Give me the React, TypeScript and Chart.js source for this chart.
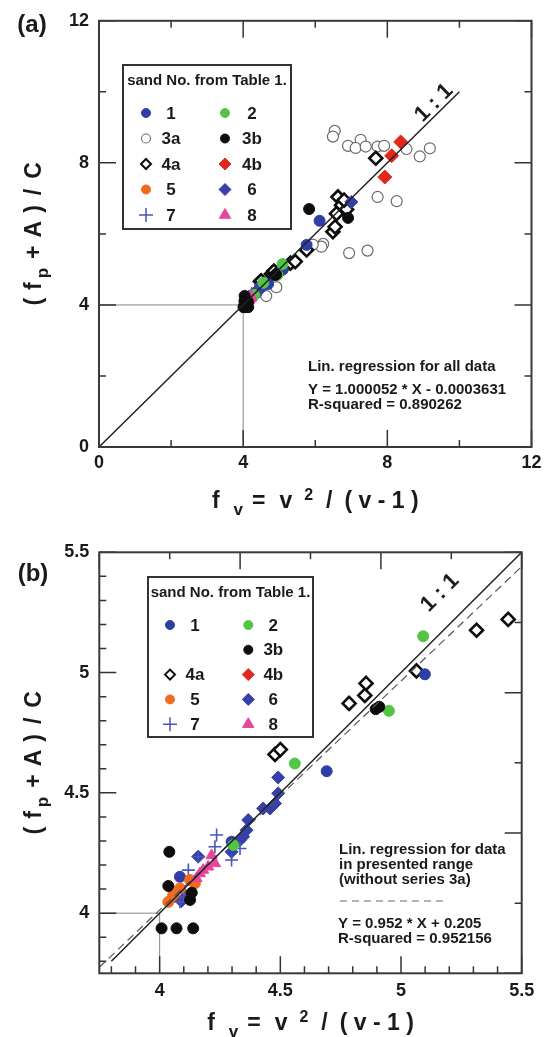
import React, { useEffect, useRef } from 'react';
import { Chart, registerables } from 'chart.js';

Chart.register(...registerables);

const FONT = '"Liberation Sans", Arial, Helvetica, sans-serif';

// ---------- series values: [f_v, (f_p + A) / C] ----------
// points inside the 3.75 – 5.5 window (shown in both panels)
const sand1 = [[4.084, 4.151], [4.298, 4.297], [4.692, 4.59], [5.099, 4.993]];
const sand2 = [[4.305, 4.283], [4.56, 4.622], [4.95, 4.841], [5.092, 5.151]];
const sand3b = [[4.008, 3.937], [4.07, 3.937], [4.139, 3.937], [4.04, 4.255], [4.036, 4.113], [4.133, 4.085], [4.126, 4.055], [4.895, 4.848], [4.91, 4.858]];
const sand4a = [[4.478, 4.66], [4.5, 4.68], [4.785, 4.872], [4.85, 4.905], [4.855, 4.955], [5.064, 5.007], [5.313, 5.176], [5.444, 5.221]];
const sand5 = [[4.036, 4.047], [4.056, 4.075], [4.084, 4.103], [4.126, 4.138], [4.146, 4.124]];
const sand6 = [[4.09, 4.05], [4.11, 4.07], [4.16, 4.235], [4.298, 4.255], [4.333, 4.304], [4.346, 4.318], [4.36, 4.345], [4.367, 4.387], [4.429, 4.435], [4.457, 4.435], [4.478, 4.456], [4.491, 4.498], [4.491, 4.564]];
const sand7 = [[4.084, 4.047], [4.098, 4.068], [4.105, 4.09], [4.119, 4.179], [4.16, 4.234], [4.229, 4.276], [4.236, 4.325], [4.298, 4.221], [4.333, 4.269]];
const sand8 = [[4.153, 4.145], [4.167, 4.165], [4.18, 4.179], [4.201, 4.193], [4.215, 4.24], [4.229, 4.207]];
// points only visible in the full-range panel (a)
const sand1Wide = [[5.76, 5.69], [6.12, 6.37]];
const sand3a = [[6.54, 8.9], [6.49, 8.74], [6.91, 8.48], [7.26, 8.65], [7.12, 8.42], [7.4, 8.46], [7.73, 8.46], [7.91, 8.48], [8.53, 8.39], [8.9, 8.18], [9.18, 8.41], [7.73, 7.04], [8.26, 6.92], [6.94, 5.46], [7.45, 5.53], [6.22, 5.72], [6.17, 5.64], [5.93, 5.7], [4.92, 4.5], [4.64, 4.25]];
const sand3bWide = [[5.83, 6.7], [6.91, 6.45]];
const sand4aWide = [[5.76, 5.55], [6.49, 6.06], [6.55, 6.2], [6.59, 6.57], [6.63, 7.04], [6.73, 6.81], [6.87, 6.69], [6.8, 6.95], [7.68, 8.13]];
const sand4b = [[7.93, 7.6], [8.12, 8.2], [8.37, 8.59]];
const sand6Wide = [[7.0, 6.9]];

// ---------- tick labels ----------
const xTickLabelsA = [0, 4, 8, 12];
const yTickLabelsA = [0, 4, 8, 12];
const xTickLabelsB = [4, 4.5, 5, 5.5];
const yTickLabelsB = [4, 4.5, 5, 5.5];

// ---------- reference lines ----------
const oneToOneA = [[0, 0], [10, 10]];
const oneToOneB = [[3.8, 3.8], [5.5, 5.5]];
const regSlopeB = 0.952;
const regInterceptB = 0.205;
const regRangeB = [3.75, 5.5];
const guideVA = [[4, 0], [4, 4]];
const guideHA = [[0, 4], [4, 4]];
const guideVB = [[4, 3.75], [4, 4]];
const guideHB = [[3.75, 4], [4, 4]];

// ---------- styles ----------
type Shape = 'circle' | 'rectRot' | 'cross' | 'triangle';
interface SeriesStyle { shape: Shape; fill: string; stroke: string; r: number; bw: number; lr: number; lbw: number }
const STYLES: Record<string, SeriesStyle> = {
  '1': { shape: 'circle', fill: '#2E3EA6', stroke: '#2E3EA6', r: 5.5, bw: 1, lr: 4.5, lbw: 1 },
  '2': { shape: 'circle', fill: '#53C444', stroke: '#53C444', r: 5.5, bw: 1, lr: 4.5, lbw: 1 },
  '3a': { shape: 'circle', fill: '#ffffff', stroke: '#6a6a6a', r: 5.5, bw: 1.2, lr: 4.5, lbw: 1.1 },
  '3b': { shape: 'circle', fill: '#0d0d0d', stroke: '#0d0d0d', r: 5.5, bw: 1, lr: 4.5, lbw: 1 },
  '4a': { shape: 'rectRot', fill: '#ffffff', stroke: '#0d0d0d', r: 6.5, bw: 2.6, lr: 5, lbw: 2 },
  '4b': { shape: 'rectRot', fill: '#E0281C', stroke: '#E0281C', r: 7, bw: 1, lr: 6, lbw: 1 },
  '5': { shape: 'circle', fill: '#F26A1E', stroke: '#F26A1E', r: 5.5, bw: 1, lr: 4.5, lbw: 1 },
  '6': { shape: 'rectRot', fill: '#3540A8', stroke: '#3540A8', r: 6.5, bw: 1, lr: 6, lbw: 1 },
  '7': { shape: 'cross', fill: '#4856B8', stroke: '#4856B8', r: 6.5, bw: 1.6, lr: 7, lbw: 1.5 },
  '8': { shape: 'triangle', fill: '#E9459B', stroke: '#E9459B', r: 6.5, bw: 1, lr: 6.5, lbw: 1 },
};

const toXY = (arr: number[][]) => arr.map(([x, y]) => ({ x, y }));

function scatterSet(key: string, data: number[][], order: number) {
  const s = STYLES[key];
  return {
    label: key,
    data: toXY(data),
    showLine: false,
    pointStyle: s.shape,
    pointRadius: s.r,
    pointHoverRadius: s.r,
    pointBackgroundColor: s.fill,
    pointBorderColor: s.stroke,
    pointBorderWidth: s.bw,
    order,
  };
}

function lineSet(data: number[][], color: string, width: number, dash: number[], order: number) {
  return {
    label: '',
    data: toXY(data),
    showLine: true,
    borderColor: color,
    borderWidth: width,
    borderDash: dash,
    pointRadius: 0,
    pointHoverRadius: 0,
    fill: false,
    order,
  };
}

// ---------- drawing helpers ----------
function drawMarker(ctx: CanvasRenderingContext2D, s: SeriesStyle, x: number, y: number) {
  const r = s.lr;
  ctx.save();
  ctx.fillStyle = s.fill;
  ctx.strokeStyle = s.stroke;
  ctx.lineWidth = s.lbw;
  ctx.beginPath();
  if (s.shape === 'circle') ctx.arc(x, y, r, 0, Math.PI * 2);
  else if (s.shape === 'rectRot') {
    ctx.moveTo(x - r, y); ctx.lineTo(x, y - r); ctx.lineTo(x + r, y); ctx.lineTo(x, y + r); ctx.closePath();
  } else if (s.shape === 'triangle') {
    for (let k = 0; k < 3; k++) {
      const a = (k * 2 * Math.PI) / 3;
      const px = x + Math.sin(a) * r, py = y - Math.cos(a) * r;
      if (k === 0) ctx.moveTo(px, py); else ctx.lineTo(px, py);
    }
    ctx.closePath();
  } else {
    ctx.moveTo(x - r, y); ctx.lineTo(x + r, y); ctx.moveTo(x, y - r); ctx.lineTo(x, y + r);
  }
  if (s.shape !== 'cross') ctx.fill();
  ctx.stroke();
  ctx.restore();
}

interface Piece { t: string; size: number; dy: number; g: number }
function drawRich(ctx: CanvasRenderingContext2D, pieces: Piece[], cx: number, cy: number, rot: number) {
  ctx.save();
  ctx.translate(cx, cy);
  ctx.rotate(rot);
  ctx.textBaseline = 'alphabetic';
  ctx.textAlign = 'left';
  let total = 0;
  const widths = pieces.map((p) => {
    ctx.font = `bold ${p.size}px ${FONT}`;
    return ctx.measureText(p.t).width;
  });
  pieces.forEach((p, i) => { total += p.g + widths[i]; });
  let x = -total / 2;
  pieces.forEach((p, i) => {
    x += p.g;
    ctx.font = `bold ${p.size}px ${FONT}`;
    ctx.fillText(p.t, x, p.dy);
    x += widths[i];
  });
  ctx.restore();
}

const X_TITLE: Piece[] = [
  { t: 'f', size: 23, dy: 0, g: 0 },
  { t: 'v', size: 17, dy: 7, g: 14 },
  { t: '=', size: 23, dy: 0, g: 9 },
  { t: 'v', size: 23, dy: 0, g: 14 },
  { t: '2', size: 16, dy: -8, g: 12 },
  { t: '/', size: 23, dy: 0, g: 13 },
  { t: '( v - 1 )', size: 23, dy: 0, g: 12 },
];
const Y_TITLE: Piece[] = [
  { t: '(', size: 23, dy: 0, g: 0 },
  { t: 'f', size: 23, dy: 0, g: 8 },
  { t: 'p', size: 17, dy: 7, g: 4 },
  { t: '+', size: 23, dy: 0, g: 9 },
  { t: 'A', size: 23, dy: 0, g: 8 },
  { t: ')', size: 23, dy: 0, g: 8 },
  { t: '/', size: 23, dy: 0, g: 10 },
  { t: 'C', size: 23, dy: 0, g: 10 },
];

function tickVals(min: number, max: number, step: number) {
  const out: number[] = [];
  for (let k = Math.ceil(min / step - 1e-6); k * step <= max + 1e-6; k++) out.push(Math.round(k * step * 1e6) / 1e6);
  return out;
}
const isMajor = (v: number, m: number) => Math.abs(v / m - Math.round(v / m)) < 1e-6;

interface Decor {
  id: string;
  xMinor: number; xMajor: number; yMinor: number; yMajor: number;
  mirror?: { min: number; max: number; minor: number; major: number };
  panel: { text: string; x: number; y: number };
  notes: { text: string; x: number; y: number }[];
  dashSample?: { x1: number; x2: number; y: number };
  oneToOne: { x: number; y: number };
  xTitleY: number; yTitleX: number;
  legend: { left: number; top: number; w: number; h: number; titleX: number; titleY: number; row0: number; rowGap: number; cols: number[]; rows: (string | null)[][] };
}

function decorPlugin(d: Decor) {
  return {
    id: d.id,
    afterDraw(chart: any) {
      const ctx: CanvasRenderingContext2D = chart.ctx;
      const { left, right, top, bottom } = chart.chartArea;
      const xs = chart.scales.x, ys = chart.scales.y;
      const MAJ = 17, MIN = 7;
      ctx.save();
      // inward ticks
      ctx.strokeStyle = '#333';
      ctx.lineWidth = 1.5;
      ctx.beginPath();
      for (const v of tickVals(xs.min, xs.max, d.xMinor)) {
        const p = xs.getPixelForValue(v); const L = isMajor(v, d.xMajor) ? MAJ : MIN;
        ctx.moveTo(p, bottom); ctx.lineTo(p, bottom - L);
      }
      for (const v of tickVals(ys.min, ys.max, d.yMinor)) {
        const p = ys.getPixelForValue(v); const L = isMajor(v, d.yMajor) ? MAJ : MIN;
        ctx.moveTo(left, p); ctx.lineTo(left + L, p);
      }
      if (d.mirror) {
        const m = d.mirror;
        for (const v of tickVals(m.min, m.max, m.minor)) {
          const f = (v - m.min) / (m.max - m.min);
          const L = isMajor(v, m.major) ? MAJ : MIN;
          const px = left + f * (right - left);
          const py = bottom - f * (bottom - top);
          ctx.moveTo(px, top); ctx.lineTo(px, top + L);
          ctx.moveTo(right, py); ctx.lineTo(right - L, py);
        }
      } else {
        for (const v of tickVals(xs.min, xs.max, d.xMinor)) {
          const p = xs.getPixelForValue(v); const L = isMajor(v, d.xMajor) ? MAJ : MIN;
          ctx.moveTo(p, top); ctx.lineTo(p, top + L);
        }
        for (const v of tickVals(ys.min, ys.max, d.yMinor)) {
          const p = ys.getPixelForValue(v); const L = isMajor(v, d.yMajor) ? MAJ : MIN;
          ctx.moveTo(right, p); ctx.lineTo(right - L, p);
        }
      }
      ctx.stroke();
      // frame
      ctx.strokeStyle = '#3a3a3a';
      ctx.lineWidth = 2;
      ctx.strokeRect(left, top, right - left, bottom - top);

      ctx.fillStyle = '#1a1a1a';
      // panel letter
      ctx.font = `bold 24px ${FONT}`;
      ctx.textAlign = 'center';
      ctx.textBaseline = 'middle';
      ctx.fillText(d.panel.text, d.panel.x, d.panel.y);
      // notes
      ctx.font = `bold 15px ${FONT}`;
      ctx.textAlign = 'left';
      for (const n of d.notes) ctx.fillText(n.text, n.x, n.y);
      if (d.dashSample) {
        ctx.save();
        ctx.strokeStyle = '#666';
        ctx.lineWidth = 1.2;
        ctx.setLineDash([7, 5]);
        ctx.beginPath();
        ctx.moveTo(d.dashSample.x1, d.dashSample.y);
        ctx.lineTo(d.dashSample.x2, d.dashSample.y);
        ctx.stroke();
        ctx.restore();
      }
      // 1 : 1 label
      ctx.save();
      ctx.translate(d.oneToOne.x, d.oneToOne.y);
      ctx.rotate(-Math.PI / 4);
      ctx.font = `bold 22px ${FONT}`;
      ctx.textAlign = 'center';
      ctx.fillText('1 : 1', 0, 0);
      ctx.restore();
      // axis titles
      drawRich(ctx, X_TITLE, (left + right) / 2, d.xTitleY, 0);
      drawRich(ctx, Y_TITLE, d.yTitleX, (top + bottom) / 2, -Math.PI / 2);
      // legend
      const lg = d.legend;
      ctx.fillStyle = '#fff';
      ctx.fillRect(lg.left, lg.top, lg.w, lg.h);
      ctx.strokeStyle = '#333';
      ctx.lineWidth = 2;
      ctx.strokeRect(lg.left, lg.top, lg.w, lg.h);
      ctx.fillStyle = '#1a1a1a';
      ctx.font = `bold 15px ${FONT}`;
      ctx.textAlign = 'center';
      ctx.textBaseline = 'middle';
      ctx.fillText('sand No. from Table 1.', lg.titleX, lg.titleY);
      ctx.font = `bold 17px ${FONT}`;
      lg.rows.forEach((row, i) => {
        const y = lg.row0 + i * lg.rowGap;
        row.forEach((key, j) => {
          if (!key) return;
          drawMarker(ctx, STYLES[key], lg.cols[j * 2], y);
          ctx.fillStyle = '#1a1a1a';
          ctx.fillText(key, lg.cols[j * 2 + 1], y + 1);
        });
      });
      ctx.restore();
    },
  };
}

function axis(min: number, max: number, labels: number[], pad: number, fit: (s: any) => void) {
  return {
    type: 'linear',
    min,
    max,
    grid: { display: false, drawTicks: false },
    border: { display: false },
    afterBuildTicks: (s: any) => { s.ticks = labels.map((v) => ({ value: v })); },
    afterFit: fit,
    ticks: {
      padding: pad,
      color: '#1a1a1a',
      autoSkip: false,
      maxRotation: 0,
      font: { family: FONT, size: 18, weight: 'bold' },
      callback: (v: any) => String(v),
    },
  };
}

const legendRowsA = [['1', '2'], ['3a', '3b'], ['4a', '4b'], ['5', '6'], ['7', '8']];
const legendRowsB = [['1', '2'], [null, '3b'], ['4a', '4b'], ['5', '6'], ['7', '8']];

function buildA(): any {
  const datasets = [
    lineSet(guideVA, '#888', 1, [], 100),
    lineSet(guideHA, '#888', 1, [], 100),
    scatterSet('3a', sand3a, 60),
    scatterSet('4b', sand4b, 59),
    scatterSet('4a', sand4a.concat(sand4aWide), 58),
    scatterSet('6', sand6.concat(sand6Wide), 57),
    scatterSet('7', sand7, 56),
    scatterSet('1', sand1.concat(sand1Wide), 55),
    scatterSet('2', sand2, 54),
    scatterSet('5', sand5, 53),
    scatterSet('8', sand8, 52),
    scatterSet('3b', sand3b.concat(sand3bWide), 51),
    lineSet(oneToOneA, '#222', 1.5, [], 1),
  ];
  return {
    type: 'scatter',
    data: { datasets },
    options: {
      responsive: false,
      devicePixelRatio: 1,
      animation: false,
      events: [],
      layout: { padding: { left: 0, right: 17.5, top: 18, bottom: 0 } },
      plugins: { legend: { display: false }, tooltip: { enabled: false } },
      scales: {
        x: axis(0, 12, xTickLabelsA, 5, (s) => { s.height = 71; }),
        y: axis(0, 12, yTickLabelsA, 10, (s) => { s.width = 99; }),
      },
    },
    plugins: [
      decorPlugin({
        id: 'decorA', xMinor: 2, xMajor: 4, yMinor: 2, yMajor: 4,
        panel: { text: '(a)', x: 32, y: 25 },
        notes: [
          { text: 'Lin. regression for all data', x: 308, y: 367 },
          { text: 'Y = 1.000052 * X - 0.0003631', x: 308, y: 390 },
          { text: 'R-squared = 0.890262', x: 308, y: 405 },
        ],
        oneToOne: { x: 434, y: 103 },
        xTitleY: 508, yTitleX: 41,
        legend: { left: 123, top: 65, w: 168, h: 164, titleX: 207, titleY: 81, row0: 113, rowGap: 25.5, cols: [146, 171, 225, 252], rows: legendRowsA },
      }),
    ],
  };
}

function buildB(): any {
  const regLine = regRangeB.map((x) => [x, regSlopeB * x + regInterceptB]);
  const datasets = [
    lineSet(guideVB, '#888', 1, [], 100),
    lineSet(guideHB, '#888', 1, [], 100),
    scatterSet('4a', sand4a, 58),
    scatterSet('6', sand6, 57),
    scatterSet('7', sand7, 56),
    scatterSet('1', sand1, 55),
    scatterSet('2', sand2, 54),
    scatterSet('5', sand5, 53),
    scatterSet('8', sand8, 52),
    scatterSet('3b', sand3b, 51),
    lineSet(regLine, '#555', 1.2, [8, 5], 2),
    lineSet(oneToOneB, '#222', 1.5, [], 1),
  ];
  return {
    type: 'scatter',
    data: { datasets },
    options: {
      responsive: false,
      devicePixelRatio: 1,
      animation: false,
      events: [],
      layout: { padding: { left: 0, right: 27.3, top: 34.3, bottom: 0 } },
      plugins: { legend: { display: false }, tooltip: { enabled: false } },
      scales: {
        x: axis(3.75, 5.5, xTickLabelsB, 7, (s) => { s.height = 63.7; }),
        y: axis(3.75, 5.5, yTickLabelsB, 10, (s) => { s.width = 99.3; }),
      },
    },
    plugins: [
      decorPlugin({
        id: 'decorB', xMinor: 0.1, xMajor: 0.5, yMinor: 0.1, yMajor: 0.5,
        mirror: { min: 0, max: 12, minor: 2, major: 4 },
        panel: { text: '(b)', x: 33, y: 56 },
        notes: [
          { text: 'Lin. regression for data', x: 339, y: 332 },
          { text: 'in presented range', x: 339, y: 347 },
          { text: '(without series 3a)', x: 339, y: 362 },
          { text: 'Y = 0.952 * X + 0.205', x: 338, y: 406 },
          { text: 'R-squared = 0.952156', x: 338, y: 421 },
        ],
        dashSample: { x1: 340, x2: 447, y: 383 },
        oneToOne: { x: 440, y: 75 },
        xTitleY: 512, yTitleX: 41,
        legend: { left: 148, top: 59, w: 165, h: 160, titleX: 230.5, titleY: 75, row0: 107, rowGap: 24.8, cols: [170, 195, 248.3, 273.3], rows: legendRowsB },
      }),
    ],
  };
}

export default function App() {
  const refA = useRef<HTMLCanvasElement>(null);
  const refB = useRef<HTMLCanvasElement>(null);
  useEffect(() => {
    const a = new Chart(refA.current as HTMLCanvasElement, buildA());
    const b = new Chart(refB.current as HTMLCanvasElement, buildB());
    return () => { a.destroy(); b.destroy(); };
  }, []);
  return (
    <div style={{ position: 'absolute', left: 0, top: 0, width: 549, height: 1037, background: '#fff' }}>
      <canvas ref={refA} width={549} height={518} style={{ position: 'absolute', left: 0, top: 0, width: 549, height: 518 }} />
      <canvas ref={refB} width={549} height={519} style={{ position: 'absolute', left: 0, top: 518, width: 549, height: 519 }} />
    </div>
  );
}
